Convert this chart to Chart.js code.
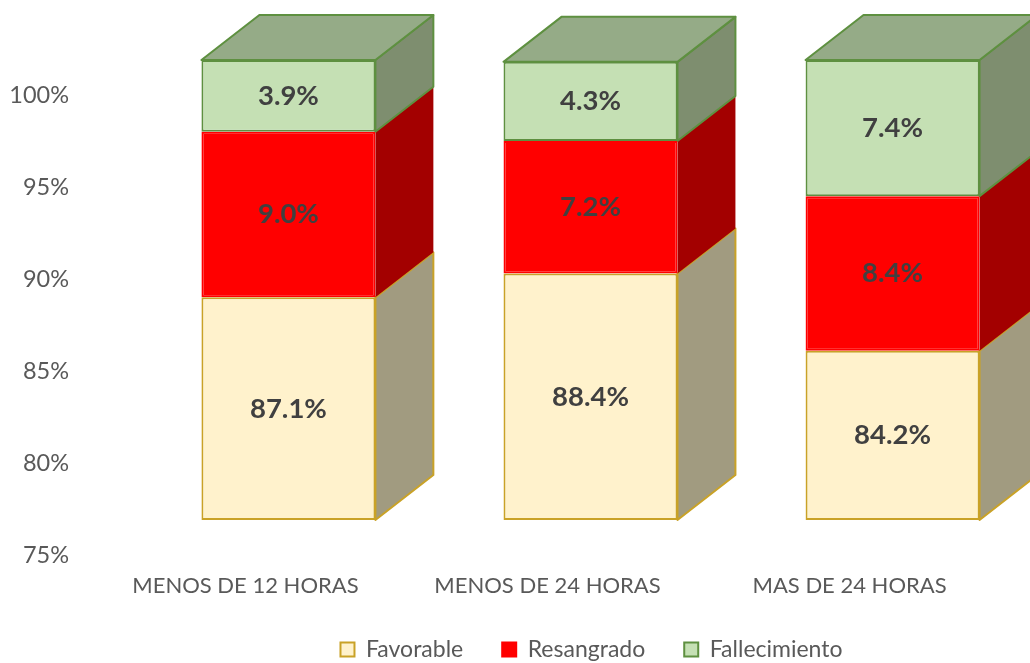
<!DOCTYPE html>
<html><head><meta charset="utf-8">
<script src="https://cdn.jsdelivr.net/npm/chart.js@4.4.1/dist/chart.umd.min.js"></script>
<style>html,body{margin:0;padding:0;background:#fff;}canvas{display:block;}</style>
</head><body>
<canvas id="c" width="1030" height="663"></canvas>
<script>
// ---- data ----
const categories = ['MENOS DE 12 HORAS', 'MENOS DE 24 HORAS', 'MAS DE 24 HORAS'];
const seriesNames = ['Favorable', 'Resangrado', 'Fallecimiento'];
const favorable = [87.1, 88.4, 84.2];
const resangrado = [9.0, 7.2, 8.4];
const fallecimiento = [3.9, 4.3, 7.4];
const yTickValues = [75, 80, 85, 90, 95, 100];
const Y_MIN = 75, Y_MAX = 100;

// ---- styles ----
const styles = [
  { bg: '#FFF2CC', border: '#C9A227', side: '#A19B80', sideBorder: true },
  { bg: '#FF0000', border: '#FF0000', side: '#A30000', sideBorder: false },
  { bg: '#C5E0B4', border: '#5E9040', side: '#7E8E6F', sideBorder: true, top: '#95AB87' }
];

const series = [favorable, resangrado, fallecimiento];
const acc = categories.map(() => 0);
const datasets = series.map((vals, s) => {
  const data = vals.map((v, i) => {
    const lo = acc[i];
    const hi = lo + v;
    acc[i] = hi;
    return { x: i, y: [Math.max(lo, Y_MIN), hi], v: v };
  });
  const st = styles[s];
  return {
    label: seriesNames[s],
    data: data,
    backgroundColor: st.bg,
    borderColor: st.border,
    borderWidth: 2,
    sideColor: st.side,
    sideBorder: st.sideBorder,
    topColor: st.top
  };
});

const threeD = {
  id: 'threeD',
  beforeDatasetsDraw(chart, args, opts) {
    const ctx = chart.ctx;
    const n = chart.data.datasets.length;
    chart.data.datasets.forEach((ds, di) => {
      const meta = chart.getDatasetMeta(di);
      meta.data.forEach(el => {
        const p = el.getProps(['x', 'y', 'base', 'width'], true);
        const l = p.x - p.width / 2, r = p.x + p.width / 2;
        const t = Math.min(p.y, p.base), b = Math.max(p.y, p.base);
        const dx = p.width * opts.depthX, dy = -p.width * opts.depthY;
        ctx.save();
        ctx.lineWidth = ds.borderWidth;
        ctx.lineJoin = 'round';
        ctx.beginPath();
        ctx.moveTo(r, t); ctx.lineTo(r + dx, t + dy); ctx.lineTo(r + dx, b + dy); ctx.lineTo(r, b);
        ctx.closePath();
        ctx.fillStyle = ds.sideColor; ctx.fill();
        if (ds.sideBorder) { ctx.strokeStyle = ds.borderColor; ctx.stroke(); }
        if (di === n - 1) {
          ctx.beginPath();
          ctx.moveTo(l, t); ctx.lineTo(l + dx, t + dy); ctx.lineTo(r + dx, t + dy); ctx.lineTo(r, t);
          ctx.closePath();
          ctx.fillStyle = ds.topColor; ctx.fill();
          ctx.strokeStyle = ds.borderColor; ctx.stroke();
        }
        ctx.restore();
      });
    });
  }
};

const dataLabels = {
  id: 'dataLabels',
  afterDatasetsDraw(chart, args, opts) {
    const ctx = chart.ctx;
    ctx.save();
    ctx.font = opts.font;
    ctx.fillStyle = opts.color;
    ctx.textAlign = 'center';
    ctx.textBaseline = 'middle';
    chart.data.datasets.forEach((ds, di) => {
      const meta = chart.getDatasetMeta(di);
      meta.data.forEach((el, i) => {
        const p = el.getProps(['x', 'y', 'base'], true);
        ctx.fillText(ds.data[i].v.toFixed(1) + '%', p.x, (p.y + p.base) / 2);
      });
    });
    ctx.restore();
  }
};

// legend is centred under the (3D) plot region, not the canvas
const legendShift = {
  id: 'legendShift',
  afterLayout(chart, args, opts) {
    if (chart.legend) chart.legend.left += opts.left;
  }
};

new Chart(document.getElementById('c'), {
  type: 'bar',
  data: { datasets: datasets },
  options: {
    responsive: false,
    animation: false,
    devicePixelRatio: 1,
    layout: { padding: { top: 60, left: 0, right: 0, bottom: -8 } },
    datasets: { bar: { grouped: false, categoryPercentage: 1, barPercentage: 0.576, borderSkipped: false, clip: false } },
    scales: {
      x: {
        type: 'linear', min: -0.69, max: 2.455, offset: false,
        grid: { display: false, drawTicks: false }, border: { display: false },
        afterBuildTicks: s => { s.ticks = categories.map((_, i) => ({ value: i })); },
        afterFit: s => { s.height = 79; s.paddingLeft = 0; s.paddingRight = 0; },
        ticks: {
          callback: v => categories[v], labelOffset: -43, padding: 53,
          maxRotation: 0, autoSkip: false, color: '#595959',
          font: { family: 'Lato', size: 22 }
        }
      },
      y: {
        min: Y_MIN, max: Y_MAX,
        grid: { display: false, drawTicks: false }, border: { display: false },
        afterBuildTicks: s => { s.ticks = yTickValues.map(v => ({ value: v })); },
        afterFit: s => { s.width = 80; s.paddingTop = 0; s.paddingBottom = 0; },
        ticks: {
          callback: v => v + '%', labelOffset: 35, padding: 11, color: '#595959',
          font: { family: 'Lato', size: 23.5 }
        }
      }
    },
    plugins: {
      legend: {
        position: 'bottom',
        labels: { boxWidth: 14, boxHeight: 14, padding: 39, color: '#595959', font: { family: 'Lato', size: 23 } }
      },
      tooltip: { enabled: false },
      legendShift: { left: 153 },
      threeD: { depthX: 0.333, depthY: 0.2586 },
      dataLabels: { font: 'bold 27.5px Lato', color: '#404040' }
    }
  },
  plugins: [threeD, dataLabels, legendShift]
});
</script>
</body></html>
